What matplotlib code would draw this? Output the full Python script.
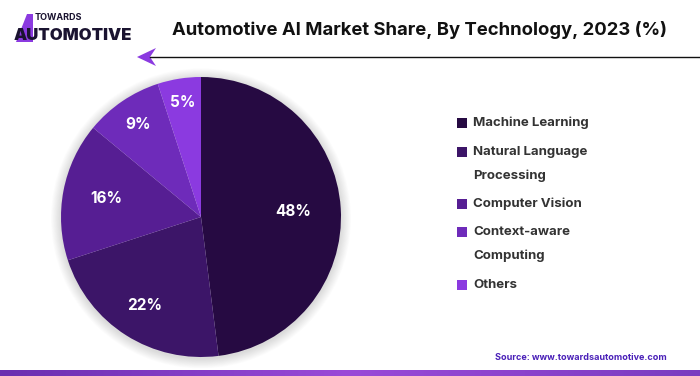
import matplotlib
matplotlib.use("Agg")
import matplotlib.pyplot as plt
import numpy as np
from matplotlib.patches import Polygon, Circle
from matplotlib.colors import LinearSegmentedColormap

categories = ["Machine Learning", "Natural Language\nProcessing", "Computer Vision",
              "Context-aware\nComputing", "Others"]
values = [48, 22, 16, 9, 5]
labels = ["48%", "22%", "16%", "9%", "5%"]
colors = ["#260a42", "#3c1568", "#561e93", "#6e2bba", "#8b3ae0"]
label_dist = [0.66, 0.75, 0.69, 0.80, 0.83]

W, H = 700, 376
fig = plt.figure(figsize=(7, 3.76), dpi=100)
fig.patch.set_facecolor("white")

FONT = "Inter"

# pie axes
cx, cy, r = 201, 376 - 217, 140
ax = fig.add_axes([(cx - r * 1.1) / W, (cy - r * 1.1) / H, 2.2 * r / W, 2.2 * r / H])
ax.axis("off")

# soft shadow
for i in range(12):
    ax.add_patch(Circle((0.0, -0.01), 1.0 + 0.006 * (i + 1), color="black",
                        alpha=0.012, lw=0, zorder=0))

wedges, _ = ax.pie(values, colors=colors, startangle=90, counterclock=False,
                   radius=1.0, wedgeprops=dict(linewidth=0))
for w, lab, d in zip(wedges, labels, label_dist):
    ang = np.deg2rad((w.theta1 + w.theta2) / 2)
    ax.text(d * np.cos(ang), d * np.sin(ang), lab, ha="center", va="center",
            color="white", fontsize=11, fontweight="bold", family=FONT)
ax.set_xlim(-1.1, 1.1)
ax.set_ylim(-1.1, 1.1)
ax.set_aspect("equal")

# title
fig.text(419 / W, 1 - 30 / H, "Automotive AI Market Share, By Technology, 2023 (%)",
         ha="center", va="center", fontsize=13.3, fontweight="bold",
         family=FONT, color="#111111")

# overlay axes in pixel coords
la = fig.add_axes([0, 0, 1, 1], facecolor="none")
la.axis("off")

# arrow line
la.plot([150, 700], [57, 57], color="#111111", lw=1.0)
la.add_patch(Polygon([[137, 57], [156, 48], [150, 57], [156, 66]], closed=True,
                     color="#8b3ae0", lw=0))

# logo
la.add_patch(Polygon([[16, 42], [27, 14], [33, 14], [33, 42]], closed=True,
                     color="#8b3ae0", lw=0))
la.text(35, 17, "TOWARDS", fontsize=6.5, fontweight="bold", family=FONT,
        color="#1a1330", va="center", ha="left")
la.text(14, 35, "AUTOMOTIVE", fontsize=12, fontweight="black", family=FONT,
        color="#1a1330", va="center", ha="left")

# legend
leg_y = [123, 152, 204, 232, 285]
for c, name, y in zip(colors, categories, leg_y):
    la.add_patch(plt.Rectangle((457, y - 5), 10, 10, color=c, lw=0))
    for k, t in enumerate(name.split("\n")):
        la.text(473, y + k * 24, t, fontsize=9.5, fontweight="bold", family=FONT,
                color="#333333", va="center", ha="left")

# source
la.text(667, 357, "Source: www.towardsautomotive.com", fontsize=6.5,
        fontweight="bold", family=FONT, color="#4a20b8", va="center", ha="right")

# bottom gradient bar
grad = np.linspace(0, 1, 256).reshape(1, -1)
cmap = LinearSegmentedColormap.from_list("g", ["#6a2fb0", "#9a4ad8", "#7a3cc0"])
la.imshow(grad, extent=[0, 700, 376, 370], aspect="auto", cmap=cmap, zorder=0)
la.set_xlim(0, W)
la.set_ylim(H, 0)

fig.savefig("out.png", dpi=100, facecolor="white")
